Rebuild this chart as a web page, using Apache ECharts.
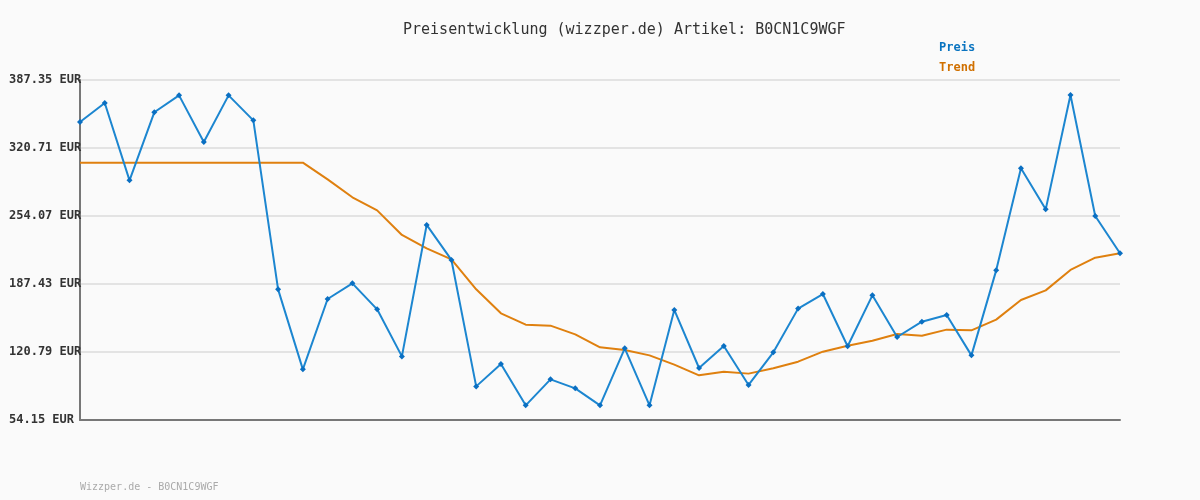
<!DOCTYPE html>
<html>
<head>
<meta charset="utf-8">
<script src="https://cdn.jsdelivr.net/npm/echarts@6/dist/echarts.min.js"></script>
<style>
html,body{margin:0;padding:0;background:#fafafa;}
#chart{width:1200px;height:500px;}
</style>
</head>
<body>
<div id="chart"></div>
<script>
var titleText = 'Preisentwicklung (wizzper.de) Artikel: B0CN1C9WGF';
var footerText = 'Wizzper.de - B0CN1C9WGF';
var seriesNames = ['Preis', 'Trend'];
var yMin = 54.15;
var yMax = 387.35;
var yStep = 66.64;
var categories = [];
for (var i = 1; i <= 43; i++) categories.push(String(i));

var preis = [346.2, 364.8, 289.0, 355.7, 372.3, 326.6, 372.3, 347.8, 182.2, 103.8,
  172.7, 188.1, 162.6, 116.5, 245.3, 211.0, 87.1, 109.0, 68.5, 94.0,
  85.2, 68.5, 124.4, 68.5, 162.0, 105.1, 126.7, 88.5, 120.5, 163.3,
  177.6, 126.4, 176.3, 135.5, 150.5, 157.1, 117.5, 200.8, 300.8, 260.6,
  372.7, 254.1, 217.5];

var trend = [306.3, 306.3, 306.3, 306.3, 306.3, 306.3, 306.3, 306.3, 306.3, 306.3,
  290.0, 272.4, 259.6, 235.5, 222.4, 211.6, 182.2, 158.7, 147.6, 146.6,
  138.1, 125.4, 122.8, 117.5, 108.4, 97.9, 101.5, 99.6, 104.8, 111.3,
  121.1, 127.0, 131.9, 138.4, 136.8, 142.7, 142.0, 152.5, 171.8, 181.2,
  201.2, 213.2, 217.5];

var mono = '"DejaVu Sans Mono", "Liberation Mono", monospace';
var chart = echarts.init(document.getElementById('chart'));
chart.setOption({
  backgroundColor: '#fafafa',
  animation: false,
  title: [{
    text: titleText,
    left: 398,
    top: 18,
    textStyle: {fontFamily: mono, fontSize: 15, fontWeight: 'normal', color: '#333'}
  }, {
    text: footerText,
    left: 75,
    top: 477,
    textStyle: {fontFamily: mono, fontSize: 10, fontWeight: 'normal', color: '#aaa'}
  }],
  legend: {
    orient: 'vertical',
    left: 929,
    top: 37,
    itemWidth: 0,
    itemHeight: 0,
    itemGap: 8,
    icon: 'rect',
    data: [
      {name: seriesNames[0], textStyle: {color: '#0a74c0'}},
      {name: seriesNames[1], textStyle: {color: '#d07000'}}
    ],
    textStyle: {fontFamily: mono, fontSize: 12, fontWeight: 'bold'}
  },
  grid: {left: 80, right: 80, top: 80, bottom: 80},
  xAxis: {
    type: 'category',
    data: categories,
    boundaryGap: false,
    axisLine: {lineStyle: {color: '#777', width: 2}},
    axisTick: {show: false},
    axisLabel: {show: false},
    splitLine: {show: false}
  },
  yAxis: {
    type: 'value',
    min: yMin,
    max: yMax,
    interval: yStep,
    axisLine: {show: true, lineStyle: {color: '#777', width: 2}},
    axisTick: {show: false},
    axisLabel: {
      align: 'left',
      margin: 71,
      fontFamily: mono,
      fontSize: 12,
      fontWeight: 'bold',
      color: '#333',
      formatter: function (v) { return v.toFixed(2) + ' EUR'; }
    },
    splitLine: {show: true, lineStyle: {color: '#e3e3e3', width: 2}}
  },
  series: [{
    name: seriesNames[0],
    type: 'line',
    data: preis,
    symbol: 'diamond',
    symbolSize: 6,
    showAllSymbol: true,
    lineStyle: {color: '#1c86d0', width: 2},
    itemStyle: {color: '#0a6fc2'},
    z: 3
  }, {
    name: seriesNames[1],
    type: 'line',
    data: trend,
    symbol: 'none',
    lineStyle: {color: '#df800f', width: 2},
    itemStyle: {color: '#df800f'},
    z: 2
  }]
});
</script>
</body>
</html>
